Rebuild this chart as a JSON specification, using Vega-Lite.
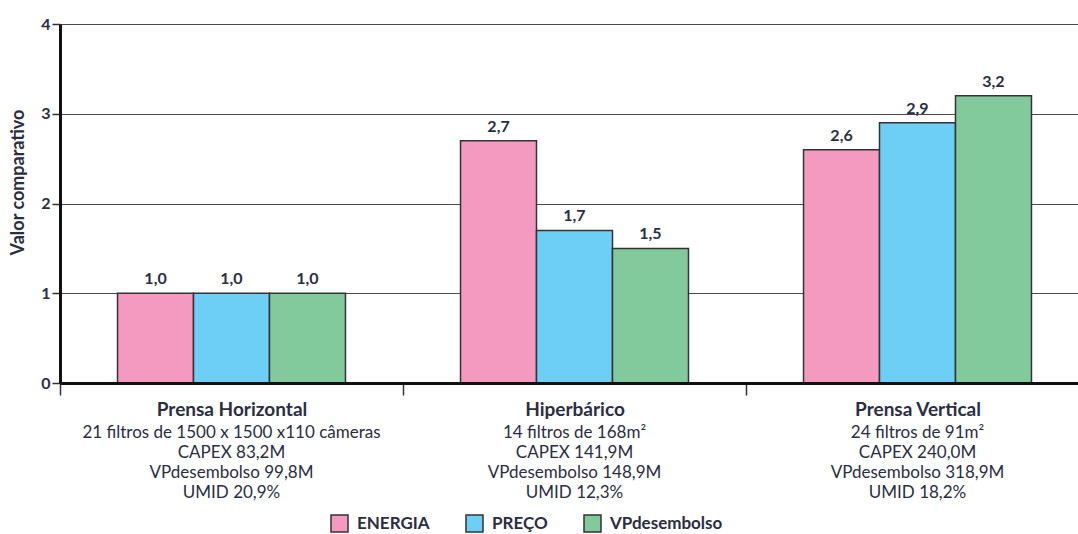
{
  "$schema": "https://vega.github.io/schema/vega-lite/v6.json",
  "width": 1018,
  "height": 359,
  "autosize": "none",
  "padding": {"left": 60, "top": 24, "right": 0, "bottom": 151},
  "config": {
    "locale": {"number": {"decimal": ",", "thousands": ".", "grouping": [3], "currency": ["R$", ""]}},
    "view": {"stroke": null},
    "font": "Lato",
    "text": {"font": "Lato"}
  },
  "data": {
    "values": [
      {"grupo": "Prensa Horizontal|21 filtros de 1500 x 1500 x110 câmeras|CAPEX 83,2M|VPdesembolso 99,8M|UMID 20,9%", "serie": "ENERGIA", "valor": 1.0},
      {"grupo": "Prensa Horizontal|21 filtros de 1500 x 1500 x110 câmeras|CAPEX 83,2M|VPdesembolso 99,8M|UMID 20,9%", "serie": "PREÇO", "valor": 1.0},
      {"grupo": "Prensa Horizontal|21 filtros de 1500 x 1500 x110 câmeras|CAPEX 83,2M|VPdesembolso 99,8M|UMID 20,9%", "serie": "VPdesembolso", "valor": 1.0},
      {"grupo": "Hiperbárico|14 filtros de 168m²|CAPEX 141,9M|VPdesembolso 148,9M|UMID 12,3%", "serie": "ENERGIA", "valor": 2.7},
      {"grupo": "Hiperbárico|14 filtros de 168m²|CAPEX 141,9M|VPdesembolso 148,9M|UMID 12,3%", "serie": "PREÇO", "valor": 1.7},
      {"grupo": "Hiperbárico|14 filtros de 168m²|CAPEX 141,9M|VPdesembolso 148,9M|UMID 12,3%", "serie": "VPdesembolso", "valor": 1.5},
      {"grupo": "Prensa Vertical|24 filtros de 91m²|CAPEX 240,0M|VPdesembolso 318,9M|UMID 18,2%", "serie": "ENERGIA", "valor": 2.6},
      {"grupo": "Prensa Vertical|24 filtros de 91m²|CAPEX 240,0M|VPdesembolso 318,9M|UMID 18,2%", "serie": "PREÇO", "valor": 2.9},
      {"grupo": "Prensa Vertical|24 filtros de 91m²|CAPEX 240,0M|VPdesembolso 318,9M|UMID 18,2%", "serie": "VPdesembolso", "valor": 3.2}
    ]
  },
  "encoding": {
    "xOffset": {"field": "serie", "type": "nominal", "sort": null, "scale": {"paddingInner": 0, "paddingOuter": 0.757}},
    "y": {
      "field": "valor",
      "type": "quantitative",
      "scale": {"domain": [0, 4], "nice": false},
      "axis": {
        "title": "Valor comparativo",
        "titleFont": "Lato",
        "titleFontSize": 18,
        "titleFontWeight": "bold",
        "titleColor": "#2b2d42",
        "titlePadding": 13,
        "titleY": 158,
        "values": [0, 1, 2, 3, 4],
        "format": "d",
        "labelFont": "Lato",
        "labelFontSize": 16,
        "labelFontWeight": "bold",
        "labelColor": "#2b2d42",
        "labelPadding": 2,
        "tickSize": 8,
        "tickWidth": 1.5,
        "tickColor": "#333333",
        "domainColor": "#111111",
        "domainWidth": 3,
        "grid": true,
        "gridColor": "#4a4a4a",
        "gridWidth": 1.2
      }
    }
  },
  "layer": [
    {
      "mark": {"type": "bar", "stroke": "#333333", "strokeWidth": 1.5},
      "encoding": {
        "x": {
          "field": "grupo",
          "type": "nominal",
          "sort": null,
          "scale": {"range": [0, 1029], "paddingInner": 0, "paddingOuter": 0},
          "axis": {
            "orient": "bottom",
            "title": null,
            "zindex": 1,
            "labelExpr": "isString(datum.value) ? split(datum.value, '|')[0] : ''",
            "labelAngle": 0,
            "labelFont": "Lato",
            "labelFontSize": 19,
            "labelFontWeight": "bold",
            "labelColor": "#2b2d42",
            "labelPadding": 5,
            "labelLimit": 500,
            "tickBand": "extent",
            "tickSize": 12,
            "tickWidth": 1.5,
            "tickColor": "#333333",
            "domainColor": "#111111",
            "domainWidth": 3
          }
        },
        "color": {
          "field": "serie",
          "type": "nominal",
          "sort": null,
          "scale": {"domain": ["ENERGIA", "PREÇO", "VPdesembolso"], "range": ["#f49ac1", "#6dcff6", "#82ca9c"]},
          "legend": {
            "title": null,
            "orient": "none",
            "direction": "horizontal",
            "legendX": 270,
            "legendY": 490,
            "symbolType": "square",
            "symbolSize": 289,
            "symbolStrokeColor": "#333333",
            "symbolStrokeWidth": 1.5,
            "symbolOpacity": 1,
            "labelFont": "Lato",
            "labelFontSize": 17,
            "labelFontWeight": "bold",
            "labelColor": "#2b2d42",
            "labelOffset": 8,
            "columnPadding": 33
          }
        }
      }
    },
    {
      "mark": {"type": "text", "baseline": "alphabetic", "dy": -9, "fontSize": 16, "fontWeight": "bold", "color": "#2b2d42"},
      "encoding": {
        "x": {
          "field": "grupo",
          "type": "nominal",
          "sort": null,
          "axis": {
            "orient": "bottom",
            "title": null,
            "domain": false,
            "ticks": false,
            "labelExpr": "isString(datum.value) ? slice(split(datum.value, '|'), 1) : ''",
            "labelAngle": 0,
            "labelFont": "Lato",
            "labelFontSize": 17,
            "labelFontWeight": "normal",
            "labelColor": "#2b2d42",
            "labelPadding": 41,
            "labelLineHeight": 20,
            "labelLimit": 500
          }
        },
        "text": {"field": "valor", "type": "quantitative", "format": ".1f"}
      }
    }
  ],
  "resolve": {"axis": {"x": "independent"}}
}
